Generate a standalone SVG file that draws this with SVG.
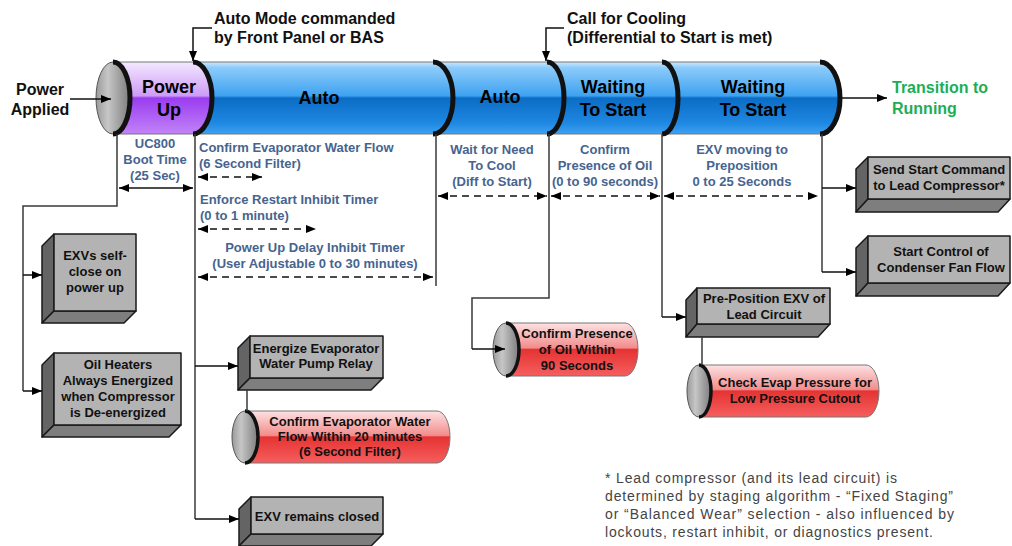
<svg xmlns="http://www.w3.org/2000/svg" width="1012" height="546" viewBox="0 0 1012 546">
<style>
text{font-family:"Liberation Sans",Arial,sans-serif;}
.big{font-weight:bold;font-size:18px;fill:#000;text-anchor:middle}
.hdr{font-weight:bold;font-size:16px;fill:#111}
.ann{font-weight:bold;font-size:13px;fill:#46648f}
.mid{text-anchor:middle}
.bx{font-weight:bold;font-size:13px;fill:#111;text-anchor:middle}
.note{font-size:14px;fill:#444}
.front{fill:#b3b3b3;stroke:#1a1a1a;stroke-width:1.5;stroke-linejoin:round}
.side{fill:#646464;stroke:#1a1a1a;stroke-width:1.5;stroke-linejoin:round}
.bot{fill:#7e7e7e;stroke:#1a1a1a;stroke-width:1.5;stroke-linejoin:round}
.sep{fill:none;stroke:#111;stroke-width:5}
.sep2{fill:none;stroke:#111;stroke-width:3.5}
.ln{fill:none;stroke:#3a3a3a;stroke-width:1.5}
.arr{fill:none;stroke:#111;stroke-width:1.5;marker-end:url(#ah)}
.dim{fill:none;stroke:#111;stroke-width:1.5;marker-start:url(#ah);marker-end:url(#ah)}
.dash{stroke-dasharray:7 5}
.cap{fill:url(#gCap);stroke:#555;stroke-width:1}
.rbody{fill:url(#gRed);stroke:#777;stroke-width:1}
</style>
<defs>
<marker id="ah" viewBox="0 0 10 8" refX="10" refY="4" markerWidth="10" markerHeight="8" markerUnits="userSpaceOnUse" orient="auto-start-reverse">
<path d="M0,0 L10,4 L0,8 z" fill="#000"/>
</marker>
<linearGradient id="gBlue" x1="0" y1="0" x2="0" y2="1">
<stop offset="0" stop-color="#cbe8ff"/>
<stop offset="0.08" stop-color="#8ccbfa"/>
<stop offset="0.47" stop-color="#3ea2f1"/>
<stop offset="0.5" stop-color="#0b6cc5"/>
<stop offset="0.85" stop-color="#1f88e2"/>
<stop offset="1" stop-color="#3ea2f1"/>
</linearGradient>
<linearGradient id="gPurple" x1="0" y1="0" x2="0" y2="1">
<stop offset="0" stop-color="#f4e8ff"/>
<stop offset="0.47" stop-color="#cd9cf6"/>
<stop offset="0.5" stop-color="#9a3cf0"/>
<stop offset="1" stop-color="#c283f8"/>
</linearGradient>
<linearGradient id="gRed" x1="0" y1="0" x2="0" y2="1">
<stop offset="0" stop-color="#fde2e2"/>
<stop offset="0.47" stop-color="#f28c8c"/>
<stop offset="0.5" stop-color="#e53333"/>
<stop offset="1" stop-color="#f65e5e"/>
</linearGradient>
<linearGradient id="gCap" x1="0" y1="0" x2="1" y2="0">
<stop offset="0" stop-color="#9a9a9a"/>
<stop offset="0.35" stop-color="#c6c6c6"/>
<stop offset="1" stop-color="#7c7c7c"/>
</linearGradient>
</defs>
<rect width="1012" height="546" fill="#fff"/>

<!-- timeline cylinder -->
<g id="seg-auto1">
<path d="M193,62 A19,36 0 0 1 193,134 H433 A20,36 0 0 0 433,62 Z" fill="url(#gBlue)"/>
<text class="big" x="319" y="104">Auto</text>
</g>
<g id="seg-auto2">
<path d="M433,62 A20,36 0 0 1 433,134 H547 A17,36 0 0 0 547,62 Z" fill="url(#gBlue)"/>
<text class="big" x="500" y="103">Auto</text>
</g>
<g id="seg-wait1">
<path d="M547,62 A17,36 0 0 1 547,134 H662 A16,36 0 0 0 662,62 Z" fill="url(#gBlue)"/>
<text class="big" x="613" y="93">Waiting</text>
<text class="big" x="613" y="116">To Start</text>
</g>
<g id="seg-wait2">
<path d="M662,62 A16,36 0 0 1 662,134 H820 A20,36 0 0 0 820,62 Z" fill="url(#gBlue)"/>
<text class="big" x="753" y="93">Waiting</text>
<text class="big" x="753" y="116">To Start</text>
</g>
<g id="seg-powerup">
<path d="M113,62 H193 A19,36 0 0 1 193,134 H113 Z" fill="url(#gPurple)"/>
<text class="big" x="169" y="93">Power</text>
<text class="big" x="169" y="116">Up</text>
</g>
<g id="timeline-outline">
<path d="M113,62 H820 M113,134 H820" fill="none" stroke="#777" stroke-width="1"/>
<path class="sep" d="M193,62 A19,36 0 0 1 193,134"/>
<path class="sep" d="M433,62 A20,36 0 0 1 433,134"/>
<path class="sep" d="M547,62 A17,36 0 0 1 547,134"/>
<path class="sep" d="M662,62 A16,36 0 0 1 662,134"/>
<path class="sep" d="M820,62 A20,36 0 0 1 820,134"/>
<ellipse class="cap" cx="113" cy="98" rx="17" ry="36"/>
<path class="sep" d="M113,62 A17,36 0 0 1 113,134"/>
</g>

<!-- labels -->
<g id="lbl-power-applied">
<text class="hdr mid" x="40" y="95">Power</text>
<text class="hdr mid" x="40" y="115">Applied</text>
</g>
<g id="lbl-auto-mode">
<text class="hdr" x="214" y="24">Auto Mode commanded</text>
<text class="hdr" x="214" y="43">by Front Panel or BAS</text>
</g>
<g id="lbl-call-cooling">
<text class="hdr" x="567" y="24">Call for Cooling</text>
<text class="hdr" x="567" y="43">(Differential to Start is met)</text>
</g>
<g id="lbl-transition">
<text class="hdr" x="892" y="93" style="fill:#1cae55">Transition to</text>
<text class="hdr" x="892" y="114" style="fill:#1cae55">Running</text>
</g>

<g id="ann-boot">
<text class="ann mid" x="155" y="148">UC800</text>
<text class="ann mid" x="155" y="164">Boot Time</text>
<text class="ann mid" x="155" y="180">(25 Sec)</text>
</g>
<g id="ann-confirm-flow">
<text class="ann" x="199" y="152">Confirm Evaporator Water Flow</text>
<text class="ann" x="199" y="168">(6 Second Filter)</text>
</g>
<g id="ann-restart">
<text class="ann" x="200" y="204">Enforce Restart Inhibit Timer</text>
<text class="ann" x="200" y="220">(0 to 1 minute)</text>
</g>
<g id="ann-powerup-delay">
<text class="ann mid" x="315" y="252">Power Up Delay Inhibit Timer</text>
<text class="ann mid" x="315" y="268">(User Adjustable 0 to 30 minutes)</text>
</g>
<g id="ann-wait-cool">
<text class="ann mid" x="492" y="154">Wait for Need</text>
<text class="ann mid" x="492" y="170">To Cool</text>
<text class="ann mid" x="492" y="186">(Diff to Start)</text>
</g>
<g id="ann-confirm-oil">
<text class="ann mid" x="605" y="154">Confirm</text>
<text class="ann mid" x="605" y="170">Presence of Oil</text>
<text class="ann mid" x="605" y="186">(0 to 90 seconds)</text>
</g>
<g id="ann-exv-moving">
<text class="ann mid" x="742" y="154">EXV moving to</text>
<text class="ann mid" x="742" y="170">Preposition</text>
<text class="ann mid" x="742" y="186">0 to 25 Seconds</text>
</g>

<!-- boxes -->
<g id="box-exvs-self-close">
<polygon class="side" points="42,246 54,234 54,311 42,323"/>
<polygon class="bot" points="42,323 54,311 136,311 124,323"/>
<rect class="front" x="54" y="234" width="82" height="77"/>
<text class="bx" x="95" y="260">EXVs self-</text>
<text class="bx" x="95" y="276">close on</text>
<text class="bx" x="95" y="292">power up</text>
</g>
<g id="box-oil-heaters">
<polygon class="side" points="42,365 54,353 54,425 42,437"/>
<polygon class="bot" points="42,437 54,425 181,425 169,437"/>
<rect class="front" x="54" y="353" width="127" height="72"/>
<text class="bx" x="118" y="369">Oil Heaters</text>
<text class="bx" x="118" y="385">Always Energized</text>
<text class="bx" x="118" y="401">when Compressor</text>
<text class="bx" x="118" y="417">is De-energized</text>
</g>
<g id="box-energize-pump">
<polygon class="side" points="238,348 250,336 250,378 238,390"/>
<polygon class="bot" points="238,390 250,378 383,378 371,390"/>
<rect class="front" x="250" y="336" width="133" height="42"/>
<text class="bx" x="316" y="353">Energize Evaporator</text>
<text class="bx" x="316" y="368">Water Pump Relay</text>
</g>
<g id="box-exv-closed">
<polygon class="side" points="239,509 251,497 251,534 239,546"/>
<polygon class="bot" points="239,546 251,534 383,534 371,546"/>
<rect class="front" x="251" y="497" width="132" height="37"/>
<text class="bx" x="317" y="521">EXV remains closed</text>
</g>
<g id="box-preposition">
<polygon class="side" points="686,300 697,288 697,324 686,337"/>
<polygon class="bot" points="686,337 697,324 830,324 818,337"/>
<rect class="front" x="697" y="288" width="133" height="36"/>
<text class="bx" x="764" y="303">Pre-Position EXV of</text>
<text class="bx" x="764" y="319">Lead Circuit</text>
</g>
<g id="box-send-start">
<polygon class="side" points="856,169 868,157 868,199 856,212"/>
<polygon class="bot" points="856,212 868,199 1010,199 998,212"/>
<rect class="front" x="868" y="157" width="142" height="42"/>
<text class="bx" x="939" y="174">Send Start Command</text>
<text class="bx" x="939" y="190">to Lead Compressor*</text>
</g>
<g id="box-condenser">
<polygon class="side" points="856,248 868,236 868,283 856,296"/>
<polygon class="bot" points="856,296 868,283 1010,283 998,296"/>
<rect class="front" x="868" y="236" width="142" height="47"/>
<text class="bx" x="941" y="256">Start Control of</text>
<text class="bx" x="941" y="272">Condenser Fan Flow</text>
</g>

<!-- red cylinders -->
<g id="cyl-evap-flow">
<path class="rbody" d="M245,411 H437 A13,26 0 0 1 437,463 H245 Z"/>
<ellipse class="cap" cx="245" cy="437" rx="13" ry="26"/>
<path class="sep2" d="M245,411 A13,26 0 0 1 245,463"/>
<text class="bx" x="350" y="426">Confirm Evaporator Water</text>
<text class="bx" x="350" y="441">Flow Within 20 minutes</text>
<text class="bx" x="350" y="456">(6 Second Filter)</text>
</g>
<g id="cyl-oil">
<path class="rbody" d="M506,323 H625 A13,26.5 0 0 1 625,376 H506 Z"/>
<ellipse class="cap" cx="506" cy="349.5" rx="13" ry="26.5"/>
<path class="sep2" d="M506,323 A13,26.5 0 0 1 506,376"/>
<text class="bx" x="577" y="338">Confirm Presence</text>
<text class="bx" x="577" y="354">of Oil Within</text>
<text class="bx" x="577" y="370">90 Seconds</text>
</g>
<g id="cyl-evap-pressure">
<path class="rbody" d="M699,365 H866 A13,26 0 0 1 866,417 H699 Z"/>
<ellipse class="cap" cx="699" cy="391" rx="12" ry="26"/>
<path class="sep2" d="M699,365 A12,26 0 0 1 699,417"/>
<text class="bx" x="795" y="387">Check Evap Pressure for</text>
<text class="bx" x="795" y="403">Low Pressure Cutout</text>
</g>

<g id="footnote">
<text class="note" x="605" y="483" textLength="292" lengthAdjust="spacing">* Lead compressor (and its lead circuit) is</text>
<text class="note" x="605" y="501" textLength="348" lengthAdjust="spacing">determined by staging algorithm - “Fixed Staging”</text>
<text class="note" x="605" y="519" textLength="349" lengthAdjust="spacing">or “Balanced Wear” selection - also influenced by</text>
<text class="note" x="605" y="537" textLength="328" lengthAdjust="spacing">lockouts, restart inhibit, or diagnostics present.</text>
</g>

<!-- connectors -->
<g id="connectors">
<path class="arr" d="M70,99 H111"/>
<path class="arr" d="M212,28 H193 V61"/>
<path class="arr" d="M564,28 H546 V61"/>
<path class="arr" d="M840,98 H887"/>
<path class="ln" d="M117,134 V206 H23 V391"/>
<path class="arr" d="M23,391 H42"/>
<path class="arr" d="M23,275 H42"/>
<path class="ln" d="M195,134 V519"/>
<path class="arr" d="M195,519 H239"/>
<path class="arr" d="M195,366 H238"/>
<path class="ln" d="M247,390 V411"/>
<path class="ln" d="M436,134 V286"/>
<path class="ln" d="M549,134 V298 H472 V349"/>
<path class="arr" d="M472,349 H505"/>
<path class="ln" d="M662,134 V317"/>
<path class="arr" d="M662,317 H686"/>
<path class="ln" d="M702,337 V365"/>
<path class="ln" d="M822,134 V272"/>
<path class="arr" d="M822,272 H856"/>
<path class="arr" d="M822,188 H856"/>
<path class="dim" d="M119,188 H193"/>
<path class="dim dash" d="M198,177 H262"/>
<path class="dim dash" d="M198,229 H316"/>
<path class="dim dash" d="M198,277 H433"/>
<path class="dim dash" d="M438,196 H547"/>
<path class="dim dash" d="M551,196 H660"/>
<path class="dim dash" d="M664,196 H818"/>
</g>
</svg>
